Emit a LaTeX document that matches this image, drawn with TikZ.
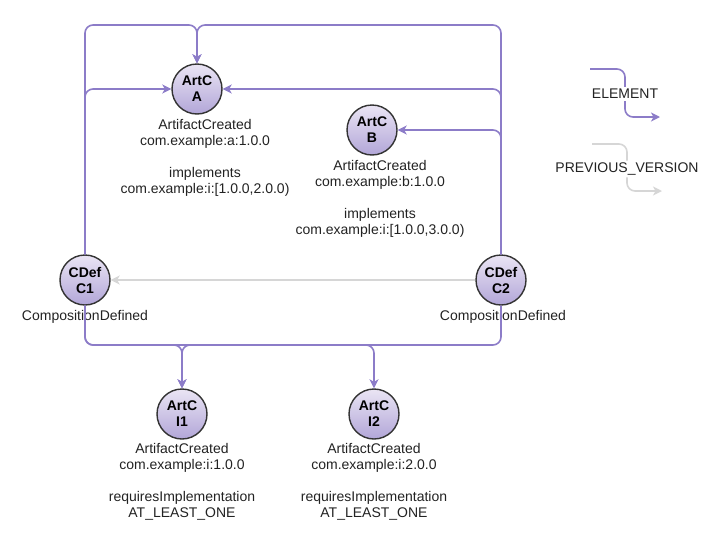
\documentclass[tikz,border=0pt]{standalone}
\usepackage{fontspec}
\setmainfont{Liberation Sans}
\usetikzlibrary{arrows.meta,positioning}

\definecolor{elemcol}{RGB}{140,124,200}
\definecolor{prevcol}{RGB}{214,214,214}
\definecolor{evtop}{RGB}{234,229,244}
\definecolor{evbot}{RGB}{178,166,216}
\definecolor{evline}{RGB}{51,51,51}
\definecolor{txtcol}{RGB}{34,34,34}

\begin{document}
\begin{tikzpicture}[x=1pt, y=-1pt,
    event/.style={circle, draw=evline, line width=1.4pt, minimum size=50pt, inner sep=0pt,
        top color=evtop, bottom color=evbot, align=center, text=black,
        font=\fontsize{14}{16}\selectfont\bfseries},
    info/.style={align=center, inner sep=0pt, text=txtcol, font=\fontsize{14}{16}\selectfont},
    legtxt/.style={fill=white, inner sep=2pt, text=txtcol, font=\fontsize{14}{16}\selectfont},
    elem/.style={draw=elemcol, line width=1.6pt, rounded corners=8pt,
        -{Stealth[length=9pt,width=9pt,inset=2.5pt]}},
    prev/.style={draw=prevcol, line width=1.6pt, rounded corners=8pt,
        -{Stealth[length=9pt,width=9pt,inset=2.5pt]}}]
\useasboundingbox (0,0) rectangle (718,536);

\node[event] (A) at (197,89) {ArtC\\A};
\node[event] (B) at (372,130) {ArtC\\B};
\node[event] (C1) at (85,280) {CDef\\C1};
\node[event] (C2) at (501,280) {CDef\\C2};
\node[event] (I1) at (182,414) {ArtC\\I1};
\node[event] (I2) at (374,414) {ArtC\\I2};

\node[info, below=4pt of A, xshift=8pt] (infoA) {ArtifactCreated\\com.example:a:1.0.0\\[16pt]implements\\com.example:i:[1.0.0,2.0.0)};
\node[info, below=4pt of B, xshift=8pt] (infoB) {ArtifactCreated\\com.example:b:1.0.0\\[16pt]implements\\com.example:i:[1.0.0,3.0.0)};
\node[info, below=4pt of C1] (infoC1) {CompositionDefined};
\node[info, below=4pt of C2, xshift=2pt] (infoC2) {CompositionDefined};
\node[info, below=3pt of I1] (infoI1) {ArtifactCreated\\com.example:i:1.0.0\\[16pt]requiresImplementation\\AT\_LEAST\_ONE};
\node[info, below=3pt of I2] (infoI2) {ArtifactCreated\\com.example:i:2.0.0\\[16pt]requiresImplementation\\AT\_LEAST\_ONE};

\coordinate (top) at (0,25);
\coordinate (bus) at (0,345);

% composition edges
\draw[elem] (C1.north) -- (C1.north |- top) -| (A.north);
\draw[elem] (C2.north) -- (C2.north |- top) -| (A.north);
\draw[elem] (C1.north) |- (A.west);
\draw[elem] (C2.north) |- (A.east);
\draw[elem] (C2.north) |- (B.east);

\draw[elem] (C1.south) -- (C1.south |- bus) -| (I1.north);
\draw[elem] (C2.south) -- (C2.south |- bus) -| (I1.north);
\draw[elem] (C1.south) -- (C1.south |- bus) -| (I2.north);

\draw[prev] (C2.west) -- (C1.east);

% legend
\node[legtxt] (elemtxt) at (625,94) {ELEMENT};
\node[legtxt] (prevtxt) at (627,169) {PREVIOUS\_VERSION};
\coordinate (e1) at (590,69);
\coordinate (e2) at (660,117);
\coordinate (p1) at (592,144);
\coordinate (p2) at (662,191);
\draw[elem, -] (e1) -| (elemtxt.north);
\draw[elem] (elemtxt.south) |- (e2);
\draw[prev, -] (p1) -| (prevtxt.north);
\draw[prev] (prevtxt.south) |- (p2);
\end{tikzpicture}
\end{document}
